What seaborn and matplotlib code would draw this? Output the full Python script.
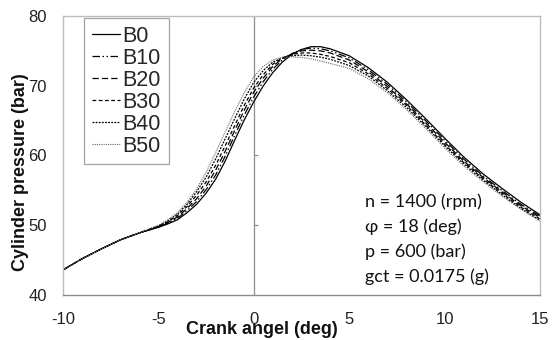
import matplotlib
matplotlib.use("Agg")
import matplotlib.pyplot as plt
import seaborn as sns
import pandas as pd

crank = [-10, -9, -8, -7, -6, -5, -4.5, -4, -3.5, -3, -2.5, -2, -1.5, -1, -0.5, 0,
         0.5, 1, 1.5, 2, 2.5, 3, 3.5, 4, 5, 6, 7, 8, 9, 10, 11, 12, 13, 14, 15]

b0 = [43.6, 45.2, 46.6, 47.9, 48.9, 49.7, 50.2, 50.8, 51.8, 53.0, 54.6, 56.6, 59.2, 62.2, 65.1, 67.7,
      70.0, 71.9, 73.4, 74.5, 75.2, 75.6, 75.6, 75.3, 74.3, 72.6, 70.5, 68.0, 65.3, 62.5, 59.8, 57.4, 55.3, 53.3, 51.5]
b10 = [43.6, 45.2, 46.6, 47.9, 48.9, 49.75, 50.3, 51.0, 52.1, 53.4, 55.1, 57.2, 59.9, 62.9, 65.8, 68.4,
       70.6, 72.4, 73.7, 74.6, 75.2, 75.4, 75.3, 75.0, 74.0, 72.3, 70.2, 67.7, 65.0, 62.2, 59.5, 57.1, 55.0, 53.0, 51.3]
b20 = [43.6, 45.2, 46.6, 47.9, 48.9, 49.8, 50.4, 51.2, 52.4, 53.8, 55.6, 57.9, 60.6, 63.6, 66.5, 69.1,
       71.1, 72.8, 73.9, 74.6, 75.0, 75.1, 75.0, 74.7, 73.7, 72.0, 69.9, 67.4, 64.7, 61.9, 59.2, 56.9, 54.8, 52.8, 51.1]
b30 = [43.6, 45.2, 46.6, 47.9, 48.9, 49.85, 50.5, 51.4, 52.7, 54.3, 56.2, 58.6, 61.4, 64.3, 67.2, 69.7,
       71.6, 73.1, 74.0, 74.5, 74.7, 74.7, 74.5, 74.2, 73.3, 71.7, 69.6, 67.2, 64.4, 61.6, 59.0, 56.7, 54.6, 52.6, 50.9]
b40 = [43.6, 45.2, 46.6, 47.9, 48.9, 49.9, 50.65, 51.6, 53.0, 54.8, 56.9, 59.5, 62.4, 65.3, 68.1, 70.5,
       72.2, 73.4, 74.0, 74.3, 74.4, 74.3, 74.1, 73.8, 72.9, 71.4, 69.3, 66.9, 64.2, 61.4, 58.8, 56.5, 54.4, 52.4, 50.7]
b50 = [43.6, 45.2, 46.6, 47.9, 48.9, 50.0, 50.8, 51.8, 53.3, 55.2, 57.6, 60.4, 63.4, 66.3, 69.0, 71.3,
       72.8, 73.7, 74.1, 74.15, 74.05, 73.85, 73.55, 73.2, 72.5, 71.0, 69.0, 66.6, 63.9, 61.1, 58.5, 56.3, 54.2, 52.3, 50.6]

series_names = ["B0", "B10", "B20", "B30", "B40", "B50"]
series_values = [b0, b10, b20, b30, b40, b50]

x_ticks = [-10, -5, 0, 5, 10, 15]
x_tick_labels = ["-10", "-5", "0", "5", "10", "15"]
y_ticks = [40, 50, 60, 70, 80]
notes = ["n = 1400 (rpm)", "\u03c6 = 18 (deg)", "p = 600 (bar)", "gct = 0.0175 (g)"]

sns.set_theme(style="white")
plt.rcParams["font.family"] = ["Liberation Sans", "DejaVu Sans"]

fig = plt.figure(figsize=(5.56, 3.40), dpi=100)
ax = fig.add_axes([63 / 556, 1 - 295 / 340, (540 - 63) / 556, (295 - 16) / 340])

styles = [
    dict(linestyle="-", color="black", linewidth=0.9),
    dict(linestyle=(0, (6, 2, 1.2, 2, 1.2, 2)), color="black", linewidth=0.9),
    dict(linestyle=(0, (5, 2.5)), color="black", linewidth=0.9),
    dict(linestyle=(0, (3, 2)), color="black", linewidth=0.9),
    dict(linestyle=(0, (1.5, 1)), color="black", linewidth=0.9),
    dict(linestyle=(0, (1, 1)), color="#666666", linewidth=0.8),
]

for name, vals, st in zip(series_names, series_values, styles):
    df = pd.DataFrame({"crank": crank, "p": vals})
    sns.lineplot(data=df, x="crank", y="p", ax=ax, label=name, **st)

ax.set_xlim(-10, 15)
ax.set_ylim(40, 80)
ax.set_xticks(x_ticks)
ax.set_xticklabels(x_tick_labels)
ax.set_yticks(y_ticks)

ax.axvline(0, color="#8c8c8c", linewidth=0.9, zorder=0)
ax.hlines([50, 60, 70], 0, 0.2, color="#8c8c8c", linewidth=0.9, zorder=0)

for side in ["left", "right", "top"]:
    ax.spines[side].set_color("#bdbdbd")
    ax.spines[side].set_linewidth(1.0)
ax.spines["bottom"].set_color("#8c8c8c")
ax.spines["bottom"].set_linewidth(1.0)

ax.tick_params(axis="both", which="major", direction="out", length=4, width=0.9,
               color="#8c8c8c", labelsize=12, labelcolor="#222222")
ax.tick_params(axis="x", pad=8)
ax.tick_params(axis="y", pad=7.5)

ax.set_xlabel("Crank angel (deg)", fontsize=13, fontweight="bold", color="#111111")
ax.set_ylabel("Cylinder pressure (bar)", fontsize=13, fontweight="bold", color="#111111")
ax.xaxis.set_label_coords((262 - 63) / (540 - 63), -0.092)
ax.yaxis.set_label_coords(-0.072, (295 - 172) / 279)

leg = ax.legend(loc="upper left", bbox_to_anchor=((84 - 63) / 477, 1.0 - (18 - 16) / 279),
                fontsize=15.5, frameon=True, fancybox=False, handlelength=1.3,
                handletextpad=0.15, labelspacing=0.05, borderpad=0.35, borderaxespad=0.0)
leg.get_frame().set_edgecolor("#8c8c8c")
leg.get_frame().set_linewidth(0.9)

for i, t in enumerate(notes):
    ax.text(365 / 556, 1 - (202 + 25 * i) / 340, t, transform=fig.transFigure,
            fontsize=13, family=["Lato", "DejaVu Sans"], va="center", ha="left", color="#111111")

fig.savefig("out.png", dpi=100)
